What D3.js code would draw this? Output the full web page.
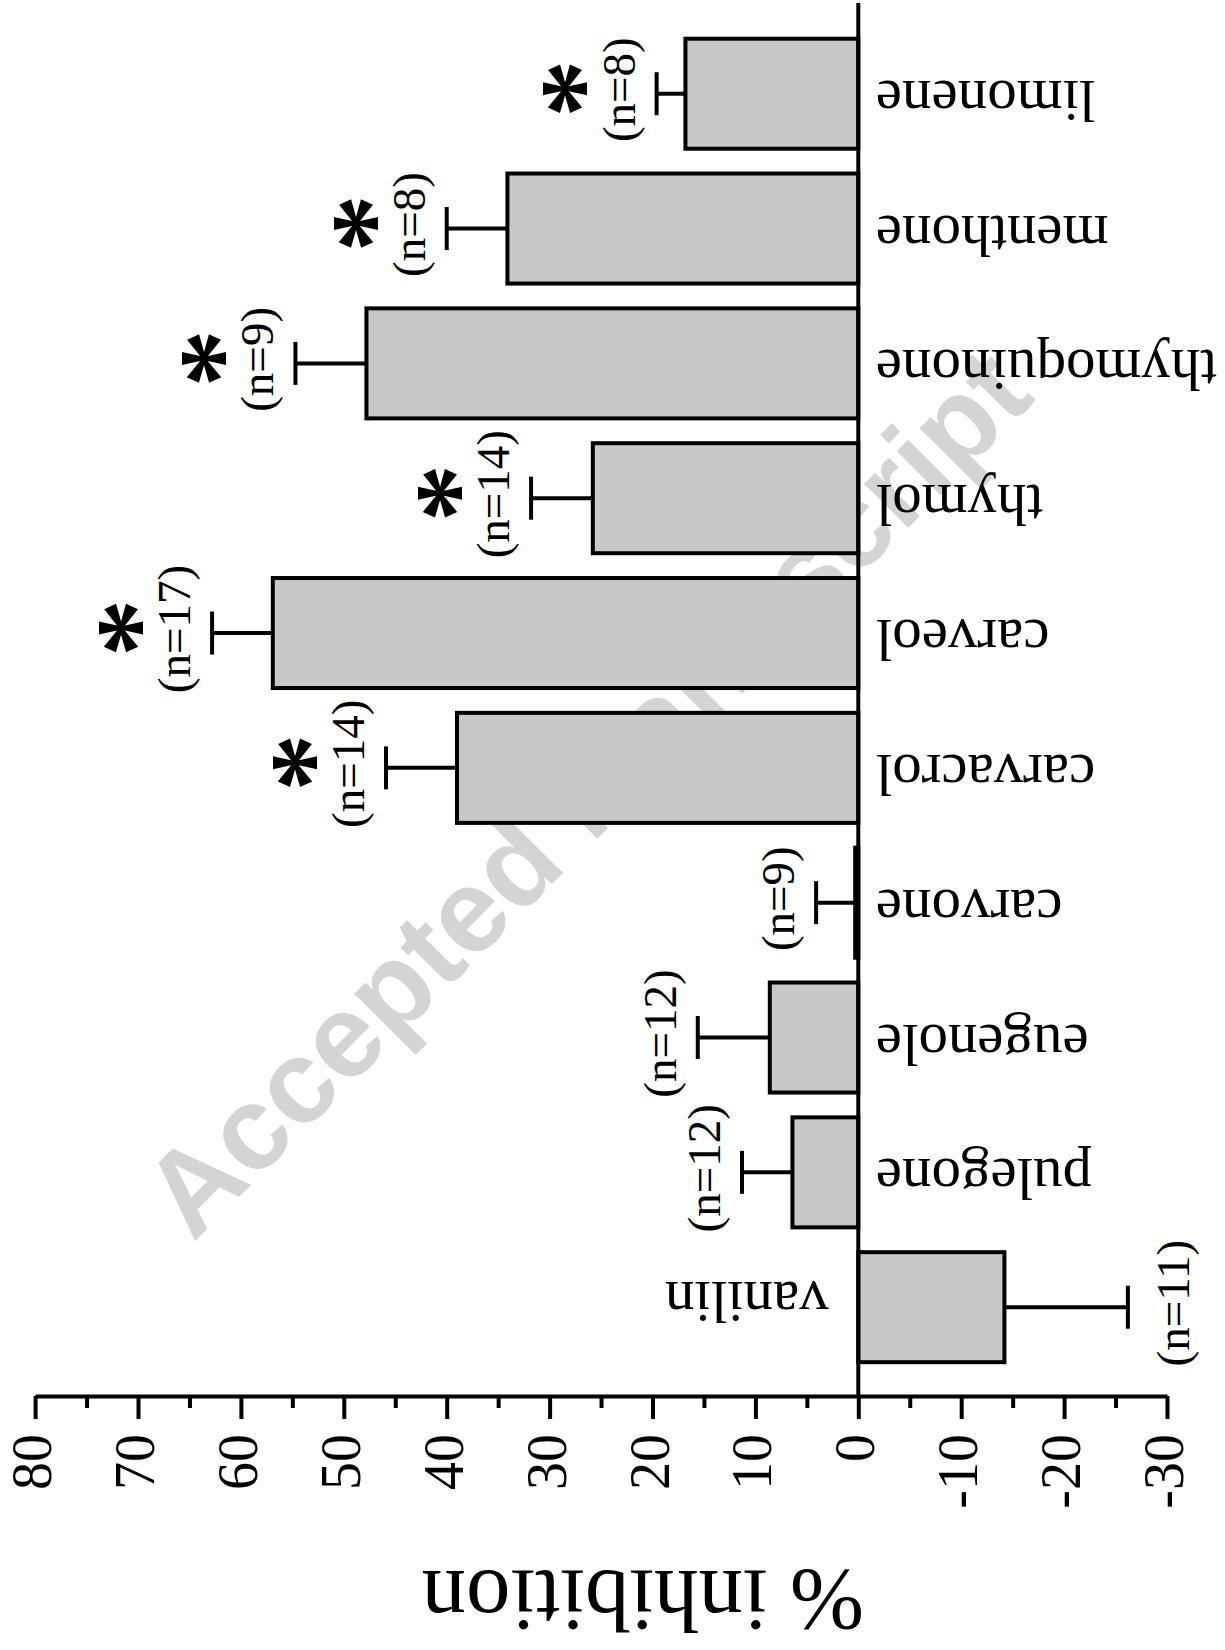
<!DOCTYPE html>
<html>
<head>
<meta charset="utf-8">
<script src="https://cdn.jsdelivr.net/npm/d3@7"></script>
<style>
  html, body { margin: 0; padding: 0; background: #fff; }
  svg { display: block; }
</style>
</head>
<body>
<svg id="chart" width="1225" height="1650"></svg>
<script>
// Inhibition by each compound (mean and SEM, in %), with group sizes
const categories = ["limonene", "menthone", "thymoquinone", "thymol", "carveol",
                    "carvacrol", "carvone", "eugenole", "pulegone", "vanilin"];
const inhibition = [16.8, 34.1, 47.8, 25.8, 56.9, 39.0, 0.3, 8.6, 6.4, -14.2];
const sem        = [2.8, 5.9, 6.9, 6.0, 5.9, 6.9, 3.8, 7.0, 4.9, 12.0];
const sampleSizes = [8, 8, 9, 14, 17, 14, 9, 12, 12, 11];
const significant = [true, true, true, true, true, true, false, false, false, false];

const tickValues = [80, 70, 60, 50, 40, 30, 20, 10, 0, -10, -20, -30];
const tickLabels = ["80", "70", "60", "50", "40", "30", "20", "10", "0", "-10", "-20", "-30"];
const axisTitle = "% inhibition";
const watermarkText = "Accepted Manuscript";

const rows = categories.map((c, i) => ({
  name: c, value: inhibition[i], sem: sem[i], n: sampleSizes[i], sig: significant[i]
}));

const svg = d3.select("#chart");
const serif = "'Liberation Serif', 'Times New Roman', Times, serif";
const LW = 4;

// value axis runs horizontally (80 on the left, -30 on the right)
const x = d3.scaleLinear().domain([80, -30]).range([35.1, 1167]);
// one band per compound, stacked top to bottom
const y = d3.scaleBand().domain(categories).range([26.3, 1374.6])
  .paddingInner(0.184).paddingOuter(0.092);
const axisY = 1396;
const x0 = x(0);

// faint diagonal watermark behind everything
svg.append("text")
  .attr("transform", "translate(193,1243) rotate(-45)")
  .attr("font-family", "'Liberation Sans', Arial, Helvetica, sans-serif")
  .attr("font-weight", "bold")
  .attr("font-size", 118)
  .attr("fill", "#d4d4d4")
  .text(watermarkText);

// bars
svg.append("g").selectAll("rect").data(rows).join("rect")
  .attr("x", d => Math.min(x(d.value), x0))
  .attr("y", d => y(d.name))
  .attr("width", d => Math.abs(x(d.value) - x0))
  .attr("height", y.bandwidth())
  .attr("fill", "#c8c8c8")
  .attr("stroke", "#000")
  .attr("stroke-width", LW);

// error bars (one-sided, away from zero)
const errEnd = d => d.value >= 0 ? d.value + d.sem : d.value - d.sem;
const cy = d => y(d.name) + y.bandwidth() / 2;
const capHalf = 21.5;
const err = svg.append("g").attr("stroke", "#000").attr("stroke-width", LW);
err.selectAll("line.stem").data(rows).join("line").attr("class", "stem")
  .attr("x1", d => x(d.value)).attr("x2", d => x(errEnd(d)))
  .attr("y1", cy).attr("y2", cy);
err.selectAll("line.cap").data(rows).join("line").attr("class", "cap")
  .attr("x1", d => x(errEnd(d))).attr("x2", d => x(errEnd(d)))
  .attr("y1", d => cy(d) - capHalf).attr("y2", d => cy(d) + capHalf);

// zero line
svg.append("line")
  .attr("x1", x0).attr("x2", x0).attr("y1", 3).attr("y2", axisY)
  .attr("stroke", "#000").attr("stroke-width", LW);

// group size labels beyond each error cap
const nFont = 47;
svg.append("g").selectAll("text").data(rows).join("text")
  .attr("transform", d => {
    const bx = d.value >= 0 ? x(errEnd(d)) - 22 : x(errEnd(d)) + 61;
    return `translate(${bx},${cy(d) - 4}) rotate(-90)`;
  })
  .attr("text-anchor", "middle")
  .attr("font-family", serif)
  .attr("font-size", nFont)
  .attr("fill", "#000")
  .text(d => `(n=${d.n})`);

// significance marks
const starFont = 116;
svg.append("g").selectAll("text").data(rows.filter(d => d.sig)).join("text")
  .attr("transform", d => `translate(${x(errEnd(d)) - 86 + 0.43 * starFont},${cy(d) - 5}) rotate(-90)`)
  .attr("text-anchor", "middle")
  .attr("font-family", serif)
  .attr("font-weight", "bold")
  .attr("font-size", starFont)
  .attr("fill", "#000")
  .text("*");

// compound names next to the zero line
svg.append("g").selectAll("text").data(rows).join("text")
  .attr("transform", d => d.value >= 0
    ? `translate(${x0 + 17.5},${cy(d) - 13}) rotate(180)`
    : `translate(${x0 - 29.5},${cy(d) - 25}) rotate(180)`)
  .attr("text-anchor", d => d.value >= 0 ? "end" : "start")
  .attr("font-family", serif)
  .attr("font-size", 59)
  .attr("fill", "#000")
  .text(d => d.name);

// value axis with major and minor ticks
const minorTicks = tickValues.slice(1).map((v, i) => (v + tickValues[i]) / 2);
const minorAxis = svg.append("g").attr("transform", `translate(0,${axisY})`)
  .call(d3.axisBottom(x).tickValues(minorTicks).tickSize(12).tickSizeOuter(0).tickFormat(""));
minorAxis.select(".domain").remove();
minorAxis.selectAll("line").attr("stroke", "#000").attr("stroke-width", LW);

const axis = svg.append("g").attr("transform", `translate(0,${axisY})`)
  .call(d3.axisBottom(x).tickValues(tickValues).tickSize(23).tickSizeOuter(0)
    .tickFormat((d, i) => tickLabels[i]));
axis.select(".domain").attr("stroke", "#000").attr("stroke-width", LW);
axis.selectAll(".tick line").attr("stroke", "#000").attr("stroke-width", LW);
axis.selectAll(".tick text")
  .attr("x", null).attr("y", null).attr("dy", null)
  .attr("transform", "translate(15.5,38) rotate(-90)")
  .attr("text-anchor", "end")
  .attr("font-family", serif)
  .attr("font-size", 56)
  .attr("fill", "#000");

// axis title
svg.append("text")
  .attr("transform", "translate(864,1571) rotate(180)")
  .attr("text-anchor", "start")
  .attr("font-family", serif)
  .attr("font-size", 89)
  .attr("fill", "#000")
  .text(axisTitle);
</script>
</body>
</html>
